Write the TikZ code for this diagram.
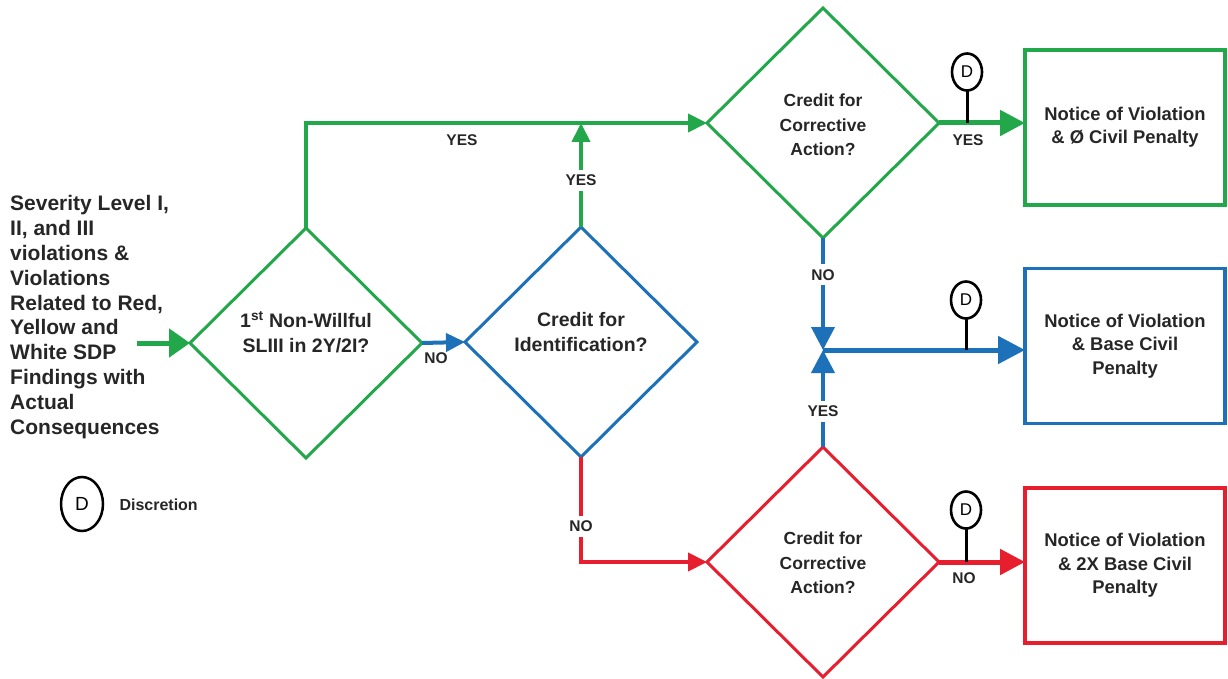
\documentclass[tikz,border=0pt]{standalone}
\usepackage{fontspec}
\setmainfont{Liberation Sans}
\usetikzlibrary{shapes.geometric,arrows.meta,calc}
\definecolor{cgreen}{RGB}{34,168,74}
\definecolor{cblue}{RGB}{29,113,184}
\definecolor{cred}{RGB}{230,30,45}
\tikzset{
  dia/.style={draw,shape=diamond,minimum width=232pt,minimum height=230pt,inner sep=0pt,outer sep=0pt,line width=3pt},
  dtext/.style={align=center,font=\fontsize{17.5}{24.5}\selectfont\bfseries,text=black!85},
  dtextb/.style={align=center,font=\fontsize{19.5}{24.5}\selectfont\bfseries,text=black!85},
  box/.style={draw,rectangle,minimum width=200pt,minimum height=155pt,inner sep=0pt,outer sep=0pt,line width=3.5pt,align=center,font=\fontsize{18.4}{23.3}\selectfont\bfseries},
  lab/.style={font=\fontsize{15.5}{16}\selectfont\bfseries,text=black!85,inner sep=2pt},
  gap/.style={lab,fill=white,inner sep=5pt},
  conn/.style={line width=4pt},
  thick conn/.style={line width=5pt},
  smalltip/.style={-{Triangle[length=19pt,width=18pt]}},
  bigtip/.style={-{Triangle[length=25pt,width=25pt]}},
  pin/.style={draw,ellipse,line width=2.6pt,minimum width=30pt,minimum height=37pt,inner sep=0pt,outer sep=0pt,font=\fontsize{17}{17}\selectfont},
  stem/.style={line width=3pt,black},
}
\begin{document}
\begin{tikzpicture}[x=1pt,y=-1pt]
\useasboundingbox (0,0) rectangle (1228,679);
% diamonds
\node[dia,cgreen] (d1) at (306,343) {};
\node[dia,cblue] (d2) at (581,342) {};
\node[dia,cgreen] (d3) at (823,123) {};
\node[dia,cred] (d4) at (823,562) {};
\node[dtextb] (t1) at (306,332) {1\textsuperscript{st} Non-Willful\\SLIII in 2Y/2I?};
\node[dtextb] (t2) at (581,332) {Credit for\\Identification?};
\node[dtext] (t3) at (823,125) {Credit for\\Corrective\\Action?};
\node[dtext] (t4) at (823,563) {Credit for\\Corrective\\Action?};
% boxes
\node[box,cgreen,text=black!85] (b1) at (1125,127.5) {Notice of Violation\\\& Ø Civil Penalty};
\node[box,cblue,text=black!85] (b2) at (1125,346) {Notice of Violation\\\& Base Civil\\Penalty};
\node[box,cred,text=black!85] (b3) at (1125,565.5) {Notice of Violation\\\& 2X Base Civil\\Penalty};
% left text
\node[align=left,anchor=west,inner sep=0pt,font=\fontsize{21}{24.8}\selectfont\bfseries,text=black!85] (src) at (10,317)
 {Severity Level I,\\II, and III\\violations \&\\Violations\\Related to Red,\\Yellow and\\White SDP\\Findings with\\Actual\\Consequences};
\coordinate (in) at (137,343);
\draw[cgreen,line width=5pt,-{Triangle[length=21pt,width=28pt]}] (in) -- (d1.west);
% legend
\node[draw,ellipse,line width=2.5pt,minimum width=42pt,minimum height=54pt,inner sep=0pt,font=\fontsize{19}{19}\selectfont] (leg) at (82,504) {D};
\node[anchor=west,font=\fontsize{16}{16}\selectfont\bfseries,text=black!85] (legt) at (116,505) {Discretion};
% green YES path
\draw[cgreen,conn,smalltip] (d1.north) |- (d3.west);
\node[lab] (y1) at (462,140) {YES};
\draw[cgreen,conn,smalltip] (d2.north) -- node[gap,pos=0.45] (y2) {YES} (d2.north |- d3.west);
% NO d1 -> d2
\draw[cblue,conn,smalltip] (d1.east) -- (d2.west);
\node[lab] (n1) at (436,358) {NO};
% red NO path
\draw[cred,conn,smalltip] (d2.south) |- node[gap,pos=0.33] (n2) {NO} (d4.west);
% junction
\coordinate (J) at (823,350);
\draw[cblue,conn,-{Triangle[length=23pt,width=23pt]}] (d3.south) -- node[gap,pos=0.33] (n3) {NO} (J);
\draw[cblue,conn,-{Triangle[length=23pt,width=23pt]}] (d4.north) -- node[gap,pos=0.37] (y3) {YES} (J);
% to boxes
\draw[cgreen,thick conn,bigtip] (d3.east) -- (d3.east -| b1.west);
\node[lab] (y4) at (968,140) {YES};
\draw[cblue,thick conn,-{Triangle[length=27pt,width=27pt]}] (J) -- (J -| b2.west);
\draw[cred,thick conn,bigtip] (d4.east) -- (d4.east -| b3.west);
\node[lab] (n4) at (964,578) {NO};
% discretion pins
\node[pin] (p1) at (967,72) {D};
\draw[stem] (p1.south) -- (p1.south |- d3.east);
\node[pin] (p2) at (966,300) {D};
\draw[stem] (p2.south) -- (p2.south |- J);
\node[pin] (p3) at (966,510) {D};
\draw[stem] (p3.south) -- (p3.south |- d4.east);
\end{tikzpicture}
\end{document}
